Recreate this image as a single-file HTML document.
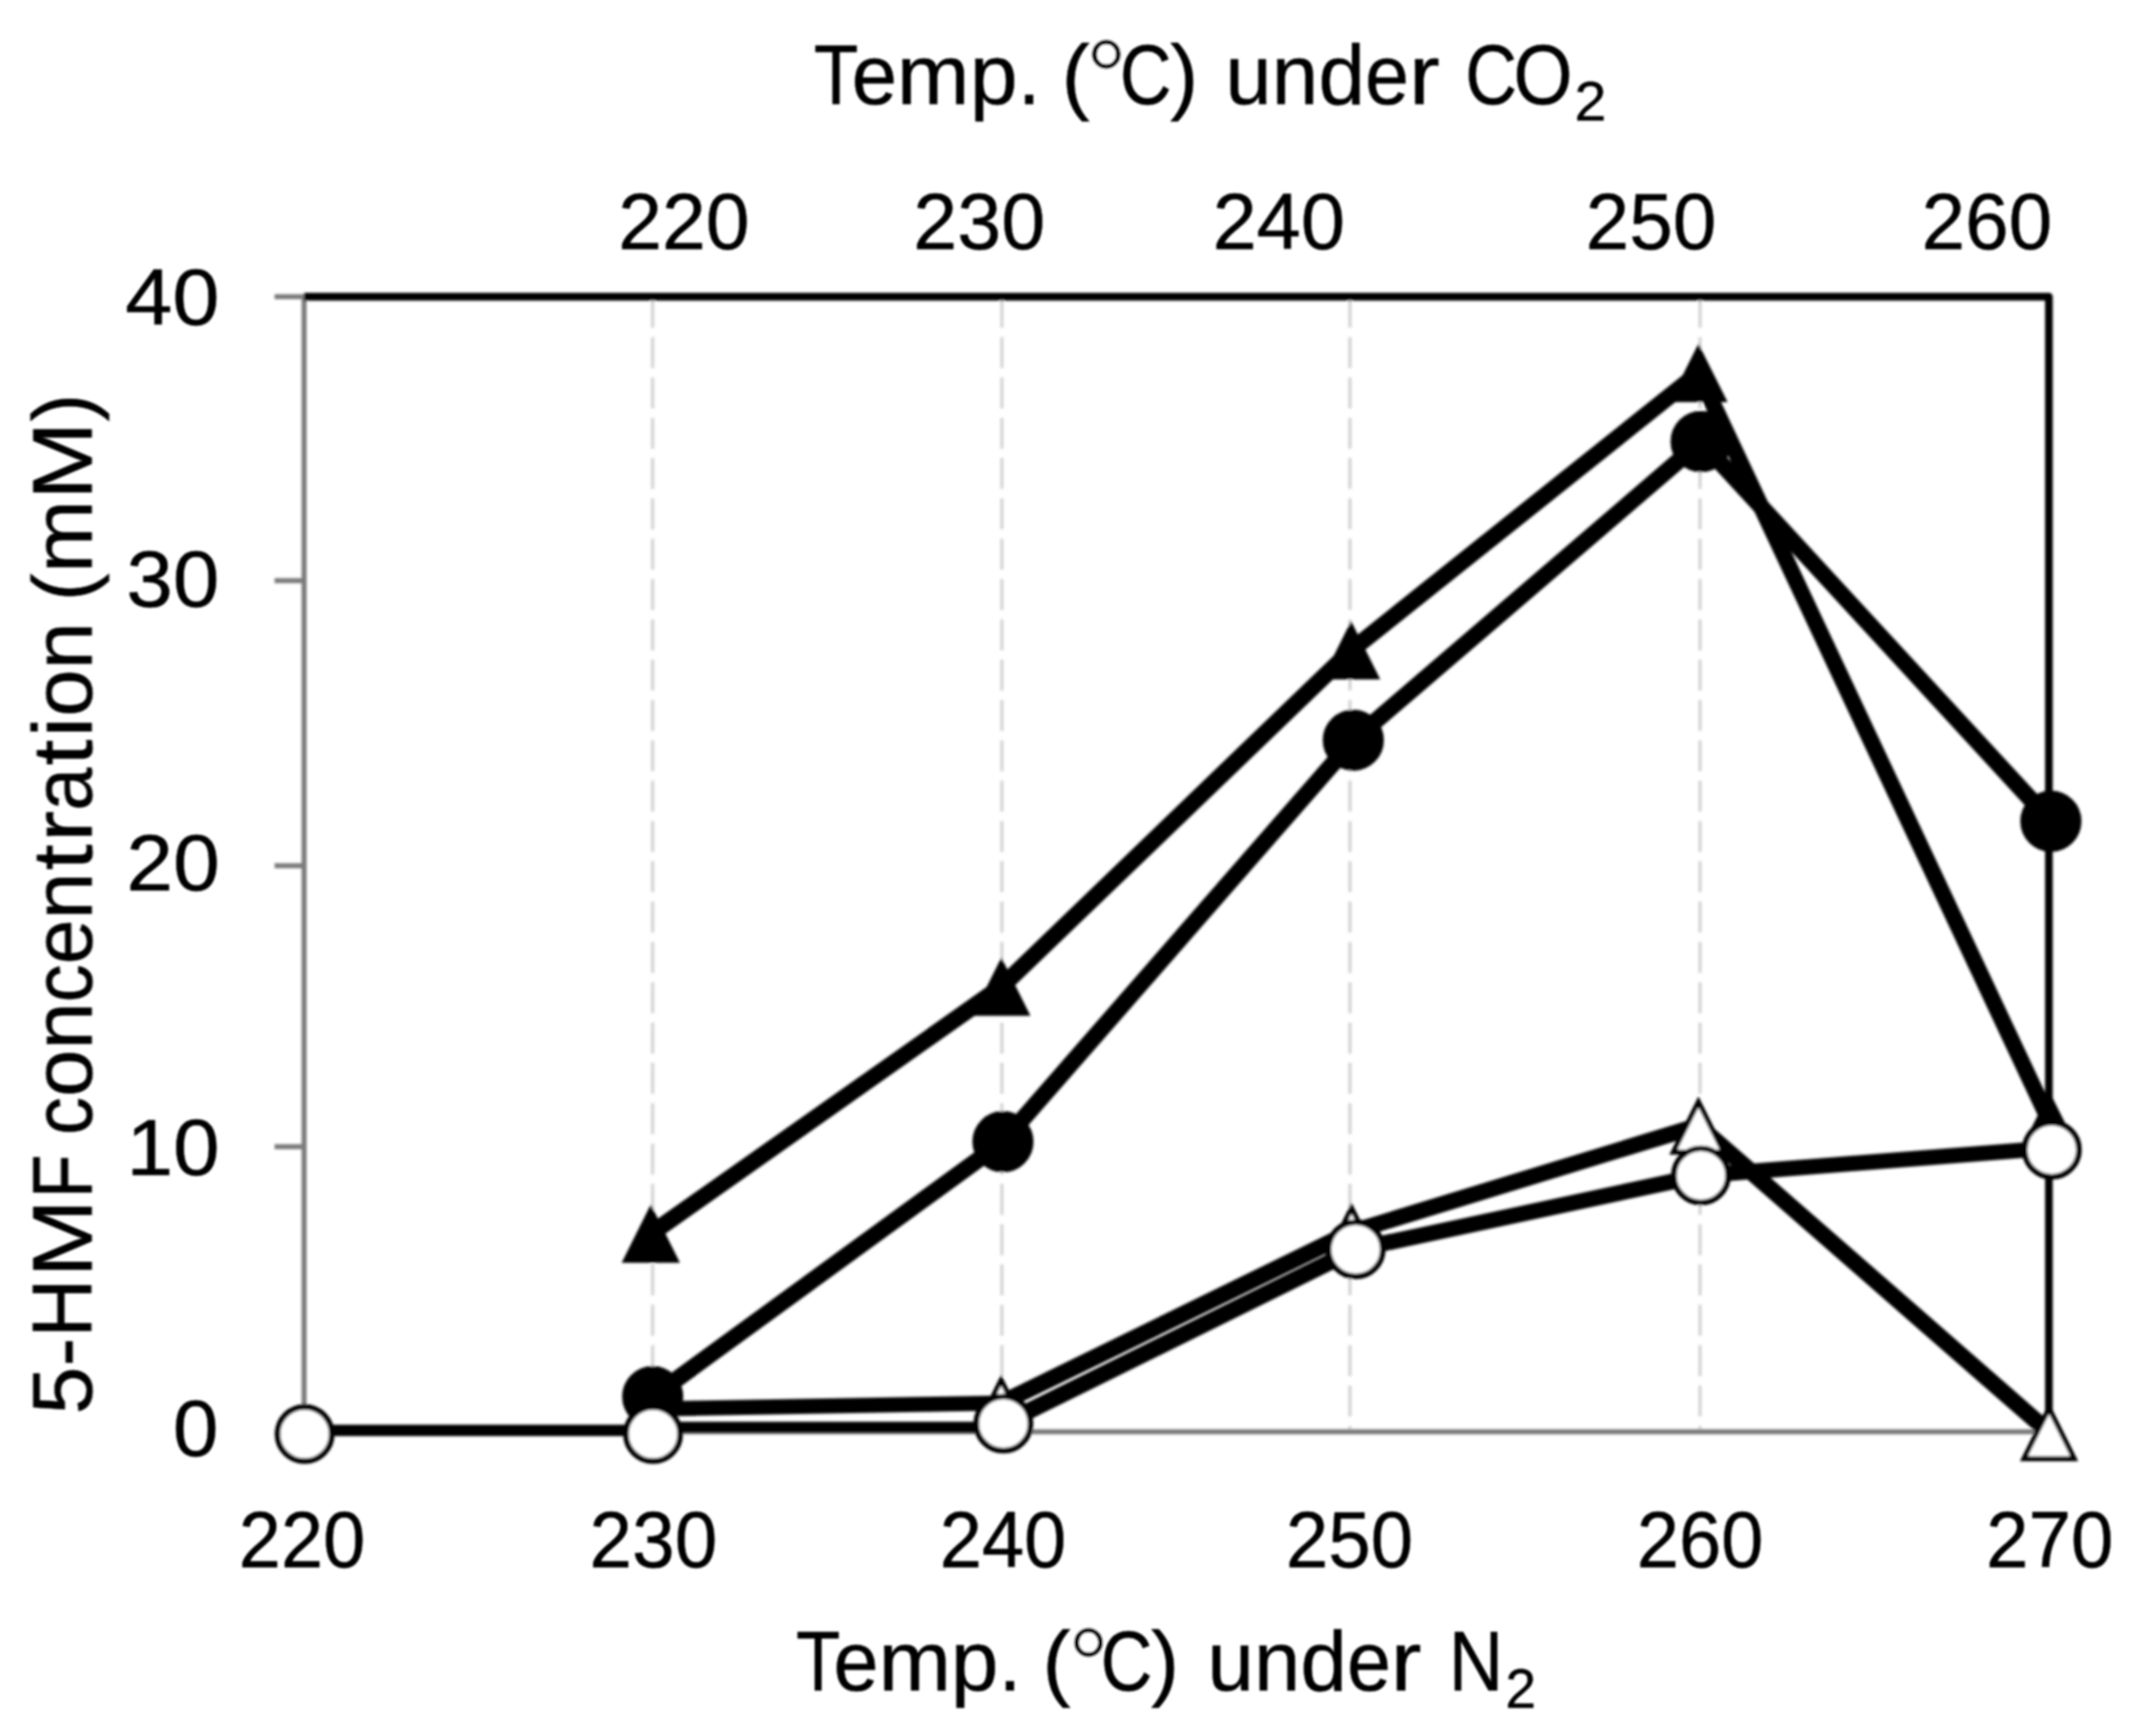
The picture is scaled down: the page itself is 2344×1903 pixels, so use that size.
<!DOCTYPE html>
<html lang="en">
<head>
<meta charset="utf-8">
<title>5-HMF concentration vs temperature</title>
<style>
html,body{margin:0;padding:0;background:#fff;}
body{width:2344px;height:1903px;overflow:hidden;}
svg{display:block;}
svg text{font-family:"Liberation Sans",sans-serif;fill:#000;font-kerning:none;stroke:#000;stroke-width:0.5px;}
</style>
</head>
<body>
<svg width="2344" height="1903" viewBox="0 0 2344 1903">
<rect x="0" y="0" width="2344" height="1903" fill="#fff"/>
<defs>
<filter id="softG" x="0" y="0" width="2344" height="1903" filterUnits="userSpaceOnUse"><feGaussianBlur stdDeviation="1.45"/></filter>
<filter id="softT" x="0" y="0" width="2344" height="1903" filterUnits="userSpaceOnUse"><feGaussianBlur stdDeviation="0.9"/></filter>
</defs>
<g filter="url(#softG)">

<g stroke="#d4d4d4" stroke-width="3.6" stroke-dasharray="34 10.2" fill="none">
<line x1="715.5" y1="325.3" x2="715.5" y2="1569.4"/>
<line x1="1098.4" y1="325.3" x2="1098.4" y2="1569.4"/>
<line x1="1480.0" y1="325.3" x2="1480.0" y2="1569.4"/>
<line x1="1863.8" y1="325.3" x2="1863.8" y2="1569.4"/>
</g>
<g stroke="#7a7a7a" stroke-width="5.5" fill="none">
<line x1="333.4" y1="322.8" x2="333.4" y2="1571.9"/>
<line x1="333.4" y1="1569.4" x2="2246.3" y2="1569.4"/>
<line x1="301" y1="325.3" x2="333.4" y2="325.3"/>
<line x1="301" y1="636.6" x2="333.4" y2="636.6"/>
<line x1="301" y1="949.1" x2="333.4" y2="949.1"/>
<line x1="301" y1="1257.0" x2="333.4" y2="1257.0"/>
<line x1="301" y1="1569.4" x2="333.4" y2="1569.4"/>
</g>
<polyline points="333.4,325.3 2246.3,325.3 2246.3,1569.4" fill="none" stroke="#000" stroke-width="8.4" stroke-linejoin="round"/>
<g fill="none" stroke="#000" stroke-linecap="butt">
<!-- filled triangles -->
<line x1="713.5" y1="1352.5" x2="1097.8" y2="1081.8" stroke-width="18.17"/>
<line x1="1097.8" y1="1081.8" x2="1481.3" y2="713.0" stroke-width="18.26"/>
<line x1="1481.3" y1="713.0" x2="1862.1" y2="409.0" stroke-width="18.22"/>
<line x1="1862.1" y1="409.0" x2="2247.0" y2="1229.0" stroke-width="17.92"/>
</g>
<polygon points="713.5,1326.5 741.0,1381.5 686.0,1381.5" fill="#000" stroke="#000" stroke-width="5.5" stroke-linejoin="miter"/>
<polygon points="1097.8,1055.8 1125.3,1110.8 1070.3,1110.8" fill="#000" stroke="#000" stroke-width="5.5" stroke-linejoin="miter"/>
<polygon points="1481.3,687.0 1508.8,742.0 1453.8,742.0" fill="#000" stroke="#000" stroke-width="5.5" stroke-linejoin="miter"/>
<polygon points="1862.1,383.0 1889.6,438.0 1834.6,438.0" fill="#000" stroke="#000" stroke-width="5.5" stroke-linejoin="miter"/>
<polygon points="2247.0,1203.0 2274.5,1258.0 2219.5,1258.0" fill="#000" stroke="#000" stroke-width="5.5" stroke-linejoin="miter"/>
<g fill="none" stroke="#000" stroke-linecap="butt">
<!-- open triangles -->
<line x1="714.0" y1="1544.5" x2="1097.6" y2="1538.0" stroke-width="16.67"/>
<line x1="1097.6" y1="1538.0" x2="1481.8" y2="1350.4" stroke-width="17.95"/>
<line x1="1481.8" y1="1350.4" x2="1862.1" y2="1234.0" stroke-width="17.60"/>
<line x1="1862.1" y1="1234.0" x2="2246.5" y2="1570.0" stroke-width="18.24"/>
</g>
<polygon points="1097.6,1513.0 1125.1,1568.0 1070.1,1568.0" fill="#fff" stroke="#000" stroke-width="5.5" stroke-linejoin="miter"/>
<polygon points="1481.8,1324.4 1509.3,1379.4 1454.3,1379.4" fill="#fff" stroke="#000" stroke-width="5.5" stroke-linejoin="miter"/>
<polygon points="1862.1,1208.0 1889.6,1263.0 1834.6,1263.0" fill="#fff" stroke="#000" stroke-width="5.5" stroke-linejoin="miter"/>
<polygon points="2246.5,1544.0 2274.0,1599.0 2219.0,1599.0" fill="#fff" stroke="#000" stroke-width="5.5" stroke-linejoin="miter"/>
<g fill="none" stroke="#000" stroke-linecap="butt">
<!-- filled circles -->
<line x1="715.6" y1="1531.0" x2="1099.6" y2="1251.6" stroke-width="18.19"/>
<line x1="1099.6" y1="1251.6" x2="1483.7" y2="811.4" stroke-width="18.24"/>
<line x1="1483.7" y1="811.4" x2="1865.0" y2="484.0" stroke-width="18.24"/>
<line x1="1865.0" y1="484.0" x2="2248.5" y2="900.3" stroke-width="18.25"/>
</g>
<circle cx="715.6" cy="1531.0" r="30.5" fill="#000" stroke="#000" stroke-width="6"/>
<circle cx="1099.6" cy="1251.6" r="30.5" fill="#000" stroke="#000" stroke-width="6"/>
<circle cx="1483.7" cy="811.4" r="30.5" fill="#000" stroke="#000" stroke-width="6"/>
<circle cx="1865.0" cy="484.0" r="30.5" fill="#000" stroke="#000" stroke-width="6"/>
<circle cx="2248.5" cy="900.3" r="30.5" fill="#000" stroke="#000" stroke-width="6"/>
<g fill="none" stroke="#000" stroke-linecap="butt">
<!-- open circles -->
<line x1="334.0" y1="1568.0" x2="716.0" y2="1568.0" stroke-width="12.60"/>
<line x1="716.0" y1="1568.0" x2="716.0" y2="1564.7" stroke-width="12.60"/>
<line x1="716.0" y1="1564.7" x2="1100.1" y2="1564.7" stroke-width="12.60"/>
<line x1="1100.1" y1="1564.7" x2="1100.1" y2="1560.5" stroke-width="12.60"/>
<line x1="1100.1" y1="1560.5" x2="1486.3" y2="1369.5" stroke-width="17.96"/>
<line x1="1486.3" y1="1369.5" x2="1864.9" y2="1288.5" stroke-width="17.35"/>
<line x1="1864.9" y1="1288.5" x2="2249.5" y2="1258.3" stroke-width="16.90"/>
</g>
<circle cx="334.0" cy="1572.0" r="29.7" fill="#fff" stroke="#000" stroke-width="6.2"/>
<circle cx="716.0" cy="1572.0" r="29.7" fill="#fff" stroke="#000" stroke-width="6.2"/>
<circle cx="1100.1" cy="1560.5" r="29.7" fill="#fff" stroke="#000" stroke-width="6.2"/>
<circle cx="1486.3" cy="1369.5" r="29.7" fill="#fff" stroke="#000" stroke-width="6.2"/>
<circle cx="1864.9" cy="1288.5" r="29.7" fill="#fff" stroke="#000" stroke-width="6.2"/>
<circle cx="2249.5" cy="1260.3" r="29.7" fill="#fff" stroke="#000" stroke-width="6.2"/>
</g>
<g filter="url(#softT)">
<text x="677.66" y="273.20" font-size="87" textLength="144.01" lengthAdjust="spacingAndGlyphs">220</text>
<text x="1001.24" y="273.20" font-size="87" textLength="144.65" lengthAdjust="spacingAndGlyphs">230</text>
<text x="1329.53" y="273.20" font-size="87" textLength="144.96" lengthAdjust="spacingAndGlyphs">240</text>
<text x="1738.48" y="273.20" font-size="87" textLength="143.17" lengthAdjust="spacingAndGlyphs">250</text>
<text x="2106.79" y="273.20" font-size="87" textLength="143.06" lengthAdjust="spacingAndGlyphs">260</text>
<text x="261.82" y="1717.80" font-size="87" textLength="138.73" lengthAdjust="spacingAndGlyphs">220</text>
<text x="646.27" y="1717.80" font-size="87" textLength="140.21" lengthAdjust="spacingAndGlyphs">230</text>
<text x="1030.22" y="1717.80" font-size="87" textLength="138.73" lengthAdjust="spacingAndGlyphs">240</text>
<text x="1409.69" y="1717.80" font-size="87" textLength="139.58" lengthAdjust="spacingAndGlyphs">250</text>
<text x="1794.41" y="1717.80" font-size="87" textLength="139.05" lengthAdjust="spacingAndGlyphs">260</text>
<text x="2177.49" y="1717.80" font-size="87" textLength="139.58" lengthAdjust="spacingAndGlyphs">270</text>
<text x="137.37" y="356.40" font-size="87" textLength="103.26" lengthAdjust="spacingAndGlyphs">40</text>
<text x="138.50" y="664.60" font-size="87" textLength="102.08" lengthAdjust="spacingAndGlyphs">30</text>
<text x="138.47" y="976.40" font-size="87" textLength="102.43" lengthAdjust="spacingAndGlyphs">20</text>
<text x="138.81" y="1288.00" font-size="87" textLength="102.07" lengthAdjust="spacingAndGlyphs">10</text>
<text x="189.59" y="1596.20" font-size="87" textLength="50.03" lengthAdjust="spacingAndGlyphs">0</text>
<text y="113.50" font-size="93.5"><tspan x="892.31" y="113.50" textLength="48.68" lengthAdjust="spacingAndGlyphs">T</tspan><tspan x="933.67" y="113.50" textLength="49.71" lengthAdjust="spacingAndGlyphs">e</tspan><tspan x="983.38" y="113.50" textLength="79.80" lengthAdjust="spacingAndGlyphs">m</tspan><tspan x="1063.18" y="113.50" textLength="52.49" lengthAdjust="spacingAndGlyphs">p</tspan><tspan x="1115.67" y="113.50" textLength="25.22" lengthAdjust="spacingAndGlyphs">.</tspan> <tspan x="1163.98" y="113.50" textLength="30.71" lengthAdjust="spacingAndGlyphs">(</tspan><tspan x="1189.73" y="125.24" font-size="116.0" stroke="#fff" stroke-width="0.9">°</tspan><tspan x="1227.65" y="113.50" textLength="56.72" lengthAdjust="spacingAndGlyphs">C</tspan><tspan x="1283.01" y="113.50" textLength="30.71" lengthAdjust="spacingAndGlyphs">)</tspan> <tspan x="1343.34" y="113.50" textLength="51.02" lengthAdjust="spacingAndGlyphs">u</tspan><tspan x="1394.36" y="113.50" textLength="51.02" lengthAdjust="spacingAndGlyphs">n</tspan><tspan x="1445.39" y="113.50" textLength="51.02" lengthAdjust="spacingAndGlyphs">d</tspan><tspan x="1496.41" y="113.50" textLength="48.32" lengthAdjust="spacingAndGlyphs">e</tspan><tspan x="1544.73" y="113.50" textLength="33.86" lengthAdjust="spacingAndGlyphs">r</tspan> <tspan x="1606.61" y="113.50" textLength="56.72" lengthAdjust="spacingAndGlyphs">C</tspan><tspan x="1659.15" y="113.50" textLength="64.84" lengthAdjust="spacingAndGlyphs">O</tspan><tspan x="1726.24" y="132.00" font-size="61" textLength="34.91" lengthAdjust="spacingAndGlyphs">2</tspan></text>
<text y="1853.20" font-size="93.5"><tspan x="872.72" y="1853.20" textLength="48.40" lengthAdjust="spacingAndGlyphs">T</tspan><tspan x="913.84" y="1853.20" textLength="49.41" lengthAdjust="spacingAndGlyphs">e</tspan><tspan x="963.26" y="1853.20" textLength="79.33" lengthAdjust="spacingAndGlyphs">m</tspan><tspan x="1042.59" y="1853.20" textLength="52.18" lengthAdjust="spacingAndGlyphs">p</tspan><tspan x="1094.77" y="1853.20" textLength="25.07" lengthAdjust="spacingAndGlyphs">.</tspan> <tspan x="1142.98" y="1853.20" textLength="30.71" lengthAdjust="spacingAndGlyphs">(</tspan><tspan x="1170.13" y="1866.24" font-size="116.0" stroke="#fff" stroke-width="0.9">°</tspan><tspan x="1206.65" y="1853.20" textLength="56.72" lengthAdjust="spacingAndGlyphs">C</tspan><tspan x="1262.01" y="1853.20" textLength="30.71" lengthAdjust="spacingAndGlyphs">)</tspan> <tspan x="1323.85" y="1853.20" textLength="50.93" lengthAdjust="spacingAndGlyphs">u</tspan><tspan x="1374.79" y="1853.20" textLength="50.93" lengthAdjust="spacingAndGlyphs">n</tspan><tspan x="1425.72" y="1853.20" textLength="50.93" lengthAdjust="spacingAndGlyphs">d</tspan><tspan x="1476.65" y="1853.20" textLength="48.24" lengthAdjust="spacingAndGlyphs">e</tspan><tspan x="1524.89" y="1853.20" textLength="33.80" lengthAdjust="spacingAndGlyphs">r</tspan> <tspan x="1588.20" y="1853.20" textLength="59.86" lengthAdjust="spacingAndGlyphs">N</tspan><tspan x="1650.46" y="1872.30" font-size="61" textLength="33.57" lengthAdjust="spacingAndGlyphs">2</tspan></text>
<text y="0.00" font-size="93.5" transform="translate(100.5,0) rotate(-90)"><tspan x="-1550.58" y="0.00" textLength="52.52" lengthAdjust="spacingAndGlyphs">5</tspan><tspan x="-1498.06" y="0.00" textLength="31.72" lengthAdjust="spacingAndGlyphs">-</tspan><tspan x="-1466.34" y="0.00" textLength="64.56" lengthAdjust="spacingAndGlyphs">H</tspan><tspan x="-1400.32" y="0.00" textLength="85.67" lengthAdjust="spacingAndGlyphs">M</tspan><tspan x="-1313.53" y="0.00" textLength="47.98" lengthAdjust="spacingAndGlyphs">F</tspan> <tspan x="-1244.34" y="0.00" textLength="41.71" lengthAdjust="spacingAndGlyphs">c</tspan><tspan x="-1202.63" y="0.00" textLength="52.02" lengthAdjust="spacingAndGlyphs">o</tspan><tspan x="-1150.61" y="0.00" textLength="51.83" lengthAdjust="spacingAndGlyphs">n</tspan><tspan x="-1098.78" y="0.00" textLength="41.71" lengthAdjust="spacingAndGlyphs">c</tspan><tspan x="-1057.07" y="0.00" textLength="49.08" lengthAdjust="spacingAndGlyphs">e</tspan><tspan x="-1007.99" y="0.00" textLength="51.83" lengthAdjust="spacingAndGlyphs">n</tspan><tspan x="-953.93" y="0.00" textLength="28.58" lengthAdjust="spacingAndGlyphs">t</tspan><tspan x="-923.05" y="0.00" textLength="34.25" lengthAdjust="spacingAndGlyphs">r</tspan><tspan x="-888.73" y="0.00" textLength="47.25" lengthAdjust="spacingAndGlyphs">a</tspan><tspan x="-839.24" y="0.00" textLength="28.58" lengthAdjust="spacingAndGlyphs">t</tspan><tspan x="-808.43" y="0.00" textLength="22.64" lengthAdjust="spacingAndGlyphs">i</tspan><tspan x="-785.80" y="0.00" textLength="52.02" lengthAdjust="spacingAndGlyphs">o</tspan><tspan x="-733.78" y="0.00" textLength="51.83" lengthAdjust="spacingAndGlyphs">n</tspan> <tspan x="-658.88" y="0.00" textLength="30.49" lengthAdjust="spacingAndGlyphs">(</tspan><tspan x="-628.39" y="0.00" textLength="80.32" lengthAdjust="spacingAndGlyphs">m</tspan><tspan x="-547.93" y="0.00" textLength="85.67" lengthAdjust="spacingAndGlyphs">M</tspan><tspan x="-462.11" y="0.00" textLength="30.49" lengthAdjust="spacingAndGlyphs">)</tspan></text>
</g>
</svg>
</body>
</html>
